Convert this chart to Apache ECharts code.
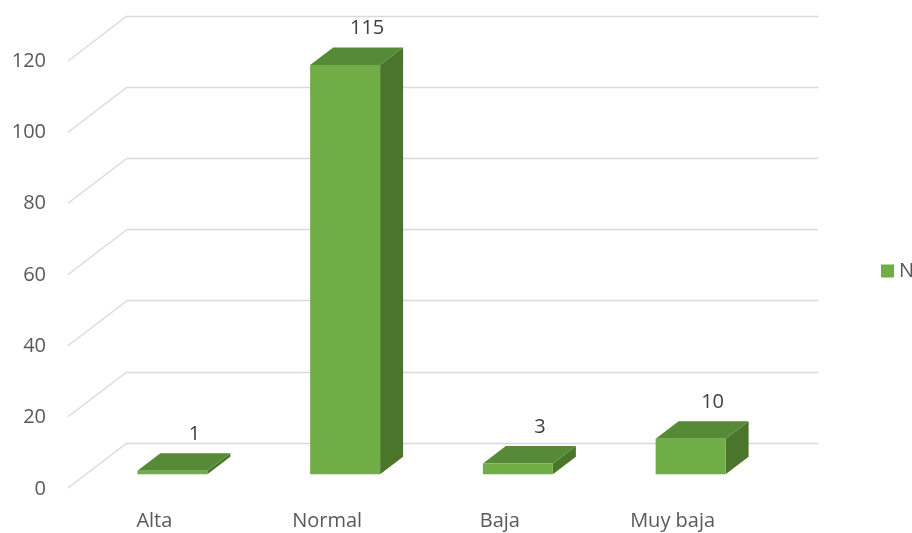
<!DOCTYPE html>
<html><head><meta charset="utf-8">
<script src="https://cdn.jsdelivr.net/npm/echarts@6/dist/echarts.min.js"></script>
<style>html,body{margin:0;padding:0;background:#fff}#c{width:912px;height:533px}</style>
</head><body><div id="c"></div>
<script>
const categories = ['Alta', 'Normal', 'Baja', 'Muy baja'];
const values = [1, 115, 3, 10];
const yTicks = [0, 20, 40, 60, 80, 100, 120];
const seriesName = 'N';

const FONT = '"Open Sans", sans-serif';
const DX = -59, DY = 45;          // depth vector from back wall to front edge
const FRONT = 0.695, BACK = 0.305; // bar front/back depth fractions
const C_FRONT = '#70AD47', C_TOP = '#578A37', C_SIDE = '#4A752B';

const chart = echarts.init(document.getElementById('c'), null, {renderer: 'canvas'});

function renderDiag(params, api) {
  const y = api.coord([0, api.value(1)])[1];
  const x0 = params.coordSys.x;
  return {
    type: 'line',
    shape: {x1: x0 + DX, y1: y + DY, x2: x0, y2: y},
    style: {stroke: '#D9D9D9', lineWidth: 1.3}
  };
}

function renderBar(params, api) {
  const i = api.value(0), v = api.value(1);
  const top = api.coord([i, v]);
  const base = api.coord([i, 0]);
  const band = api.size([1, 0])[0];
  const w = band * 0.405;
  const fx = DX * FRONT, fy = DY * FRONT;
  const bx = DX * BACK, by = DY * BACK;
  const xl = top[0] - w / 2, xr = top[0] + w / 2;
  const yt = top[1], yb = base[1];
  return {
    type: 'group',
    children: [
      {type: 'polygon', shape: {points: [[xr + fx, yt + fy], [xr + bx, yt + by], [xr + bx, yb + by], [xr + fx, yb + fy]]}, style: {fill: C_SIDE}},
      {type: 'polygon', shape: {points: [[xl + fx, yt + fy], [xr + fx, yt + fy], [xr + bx, yt + by], [xl + bx, yt + by]]}, style: {fill: C_TOP}},
      {type: 'rect', shape: {x: xl + fx, y: yt + fy, width: w, height: yb - yt}, style: {fill: C_FRONT}},
      {type: 'text', style: {text: String(v), x: top[0] + fx + 22, y: yt + by - 19, align: 'center', verticalAlign: 'middle', fill: '#404040', font: '20px ' + FONT}}
    ]
  };
}

chart.setOption({
  animation: false,
  backgroundColor: '#fff',
  textStyle: {fontFamily: FONT},
  legend: {
    data: [seriesName], left: 876, top: 256, icon: 'rect', itemWidth: 13, itemHeight: 13, itemGap: 5,
    textStyle: {fontSize: 20, color: '#595959', fontFamily: FONT}
  },
  grid: [
    {left: 127, right: 94, top: 16, bottom: 90},
    {left: 68, right: 153, top: 61, bottom: 44}
  ],
  xAxis: [
    {type: 'category', gridIndex: 0, data: categories, show: false},
    {type: 'category', gridIndex: 1, data: categories,
      axisLine: {show: false}, axisTick: {show: false},
      axisLabel: {fontSize: 20, color: '#595959', margin: 22, fontFamily: FONT}}
  ],
  yAxis: [
    {type: 'value', gridIndex: 0, min: 0, max: 120, interval: 20,
      axisLine: {show: false}, axisTick: {show: false}, axisLabel: {show: false},
      splitLine: {show: true, lineStyle: {color: '#D9D9D9', width: 1.3}}},
    {type: 'value', gridIndex: 1, min: 0, max: 120, interval: 20,
      axisLine: {show: false}, axisTick: {show: false}, splitLine: {show: false},
      axisLabel: {fontSize: 20, color: '#595959', margin: 22, fontFamily: FONT,
        padding: [7, 0, 0, 0], customValues: yTicks}}
  ],
  series: [
    {type: 'custom', name: 'grid', xAxisIndex: 0, yAxisIndex: 0, silent: true, clip: false, z: 1,
      data: yTicks.map(v => [0, v]), encode: {x: 0, y: 1}, renderItem: renderDiag},
    {type: 'custom', name: seriesName, xAxisIndex: 0, yAxisIndex: 0, clip: false, z: 2,
      itemStyle: {color: C_FRONT},
      data: values.map((v, i) => [i, v]), encode: {x: 0, y: 1}, renderItem: renderBar}
  ]
});
</script></body></html>
